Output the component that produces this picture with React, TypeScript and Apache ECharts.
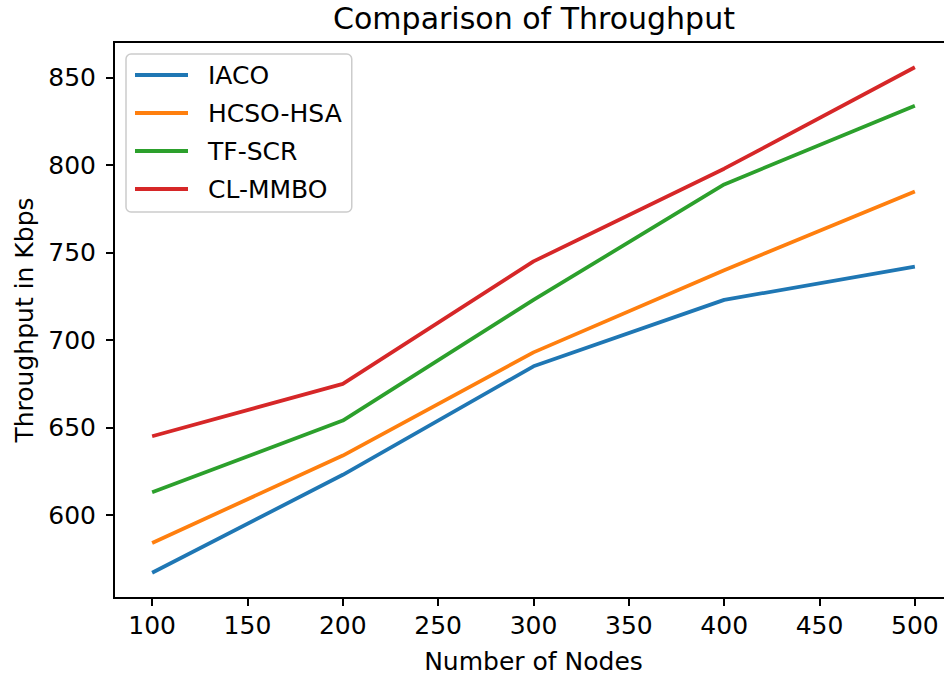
import React, { useEffect, useRef } from "react";
import * as echarts from "echarts";

const nodes = [100, 200, 300, 400, 500];
const seriesNames = ["IACO", "HCSO-HSA", "TF-SCR", "CL-MMBO"];
const iaco = [567, 623, 685, 723, 742];
const hcsoHsa = [584, 634, 693, 740, 785];
const tfScr = [613, 654, 723, 789, 834];
const clMmbo = [645, 675, 745, 798, 856];
const xTicks = [100, 150, 200, 250, 300, 350, 400, 450, 500];
const yTicks = [600, 650, 700, 750, 800, 850];
const colors = ["#1f77b4", "#ff7f0e", "#2ca02c", "#d62728"];

const FONT = "DejaVu Sans";

export default function App() {
  const ref = useRef<HTMLDivElement>(null);
  useEffect(() => {
    if (!ref.current) return;
    const chart = echarts.init(ref.current, undefined, { renderer: "svg" });
    const all = [iaco, hcsoHsa, tfScr, clMmbo];
    const vals = all.flat();
    const dMin = Math.min(...vals);
    const dMax = Math.max(...vals);
    const yPad = (dMax - dMin) * 0.05;
    const xPad = (nodes[nodes.length - 1] - nodes[0]) * 0.05;
    chart.setOption({
      animation: false,
      backgroundColor: "#ffffff",
      color: colors,
      textStyle: { fontFamily: FONT },
      title: {
        text: "Comparison of Throughput",
        left: 529,
        textAlign: "center",
        top: -2,
        textStyle: { fontFamily: FONT, fontSize: 30, fontWeight: "normal", color: "#000" },
      },
      legend: {
        orient: "vertical",
        left: 126,
        top: 54,
        padding: [7, 10, 9, 9],
        itemGap: 10,
        itemWidth: 53,
        itemHeight: 4,
        icon: "rect",
        backgroundColor: "rgba(255,255,255,0.8)",
        borderColor: "#cccccc",
        borderWidth: 1.5,
        borderRadius: 5,
        textStyle: {
          fontFamily: FONT,
          fontSize: 25,
          color: "#000",
          lineHeight: 28,
          padding: [0, 0, 0, 15],
        },
        data: seriesNames,
      },
      grid: {
        left: 114,
        top: 42,
        right: 7,
        height: 556,
        show: true,
        borderColor: "#000",
        borderWidth: 2,
        containLabel: false,
        outerBoundsMode: "none",
      },
      xAxis: {
        type: "value",
        min: nodes[0] - xPad,
        max: nodes[nodes.length - 1] + xPad,
        name: "Number of Nodes",
        nameLocation: "middle",
        nameGap: 51,
        nameTextStyle: { fontFamily: FONT, fontSize: 25, color: "#000" },
        splitLine: { show: false },
        axisLine: { show: true, lineStyle: { color: "#000", width: 2 } },
        axisTick: { show: true, length: 8, lineStyle: { color: "#000", width: 2 }, customValues: xTicks },
        axisLabel: { fontFamily: FONT, fontSize: 25, color: "#000", margin: 15, customValues: xTicks },
      },
      yAxis: {
        type: "value",
        min: dMin - yPad,
        max: dMax + yPad,
        name: "Throughput in Kbps",
        nameLocation: "middle",
        nameGap: 75,
        nameTextStyle: { fontFamily: FONT, fontSize: 25, color: "#000" },
        splitLine: { show: false },
        axisLine: { show: true, lineStyle: { color: "#000", width: 2 } },
        axisTick: { show: true, length: 8, lineStyle: { color: "#000", width: 2 }, customValues: yTicks },
        axisLabel: { fontFamily: FONT, fontSize: 25, color: "#000", margin: 18, customValues: yTicks },
      },
      series: all.map((arr, i) => ({
        name: seriesNames[i],
        type: "line",
        symbol: "none",
        data: nodes.map((n, j) => [n, arr[j]]),
        lineStyle: { width: 3.75, color: colors[i] },
        itemStyle: { color: colors[i] },
      })),
    });
    return () => chart.dispose();
  }, []);
  return (
    <div style={{ position: "fixed", left: 0, top: 0, width: 944, height: 676, overflow: "hidden" }}>
      <div ref={ref} style={{ width: 960, height: 676 }} />
    </div>
  );
}
